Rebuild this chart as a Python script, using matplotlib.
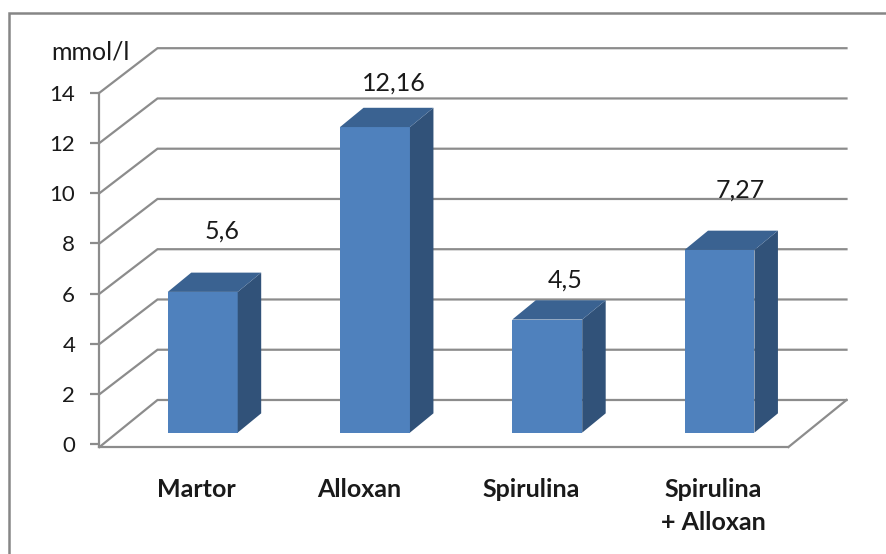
import matplotlib
matplotlib.use("Agg")
import matplotlib.pyplot as plt
from matplotlib.lines import Line2D

categories = ["Martor", "Alloxan", "Spirulina", "Spirulina\n+ Alloxan"]
values = [5.6, 12.16, 4.5, 7.27]
value_labels = ["5,6", "12,16", "4,5", "7,27"]
y_ticks = [0, 2, 4, 6, 8, 10, 12, 14]
y_unit = "mmol/l"

# Layout, all in pixels at 100 dpi
W, H = 887, 554
PLOT_L, PLOT_R, PLOT_T, PLOT_B = 99.5, 788.5, 92.7, 447.0
Y_MIN = -0.1
DEPTH_X, DEPTH_Y = 58.0, 44.5          # oblique shift of the back wall
BAR_NEAR, BAR_FAR = 0.295, 0.70        # depth span of the bars
BAR_SINK = 0.05                        # front face sits slightly lower, in value units
BAR_WIDTH = 0.406
LABEL_LIFT = [61, 44, 39, 60]          # value label height above the bar's front top
LABEL_SHIFT = [19, 19, 18, 21]         # value label shift right of the bar's front centre
CATEGORY_SHIFT = [10.5, 1, 1, 11]      # category label shift from the slot centre

GRID = "#8c8c8c"
FRONT, SIDE, TOP = "#4f81bd", "#315279", "#3a6291"
TEXT = "#1a1a1a"
LABEL_SIZE = 18
TICK_SIZE = 16

plt.rcParams["font.family"] = ["Lato", "DejaVu Sans"]

fig = plt.figure(figsize=(W / 100, H / 100), dpi=100, facecolor="white")
ax = fig.add_axes([PLOT_L / W, 1 - PLOT_B / H, (PLOT_R - PLOT_L) / W, (PLOT_B - PLOT_T) / H])
ax.set_xlim(-0.5, 3.5)
ax.set_ylim(Y_MIN, 14)
ax.patch.set_visible(False)

px_x = (PLOT_R - PLOT_L) / 4
px_y = (PLOT_B - PLOT_T) / (14 - Y_MIN)


def project(x, v, depth):
    """Oblique projection of a point at the given depth into data coordinates."""
    return x + depth * DEPTH_X / px_x, v + depth * DEPTH_Y / px_y


# Back wall gridlines, each with its receding segment along the left side
for v in y_ticks:
    start_v = Y_MIN if v == 0 else v
    p0 = project(-0.5, start_v, 0)
    p1 = project(-0.5, v, 1)
    p2 = project(3.5, v, 1)
    ax.plot([p0[0], p1[0], p2[0]], [p0[1], p1[1], p2[1]], color=GRID, lw=1.6,
            clip_on=False, zorder=1, solid_joinstyle="miter")

# Right edge of the floor
p0 = project(3.5, Y_MIN, 0)
p1 = project(3.5, 0, 1)
ax.plot([p0[0], p1[0]], [p0[1], p1[1]], color=GRID, lw=1.6, clip_on=False, zorder=1)

# Bars: front face, side face and top face
for i, v in enumerate(values):
    xl, base = project(i - BAR_WIDTH / 2, 0, BAR_NEAR)
    xr, _ = project(i + BAR_WIDTH / 2, 0, BAR_NEAR)
    base -= BAR_SINK
    ax.bar(xl, v, width=xr - xl, bottom=base, align="edge", color=FRONT,
           edgecolor="none", clip_on=False, zorder=3)
    fr_b = (xr, base)
    fr_t = (xr, base + v)
    bk_b = project(i + BAR_WIDTH / 2, 0, BAR_FAR)
    bk_t = project(i + BAR_WIDTH / 2, v, BAR_FAR)
    ax.fill([fr_b[0], bk_b[0], bk_t[0], fr_t[0]], [fr_b[1], bk_b[1], bk_t[1], fr_t[1]],
            color=SIDE, lw=0, clip_on=False, zorder=3)
    bl_t = project(i - BAR_WIDTH / 2, v, BAR_FAR)
    ax.fill([xl, xr, bk_t[0], bl_t[0]], [base + v, base + v, bk_t[1], bl_t[1]],
            color=TOP, lw=0, clip_on=False, zorder=3)
    ax.annotate(value_labels[i], xy=((xl + xr) / 2, base + v),
                xytext=(LABEL_SHIFT[i] * 0.72, LABEL_LIFT[i] * 0.72),
                textcoords="offset points", ha="center", va="center",
                fontsize=LABEL_SIZE, color=TEXT, zorder=4)

# Axes: left and bottom lines with outside ticks on the value axis
for side in ("top", "right"):
    ax.spines[side].set_visible(False)
for side in ("left", "bottom"):
    ax.spines[side].set_color(GRID)
    ax.spines[side].set_linewidth(1.6)
ax.set_xticks([])
ax.set_yticks(y_ticks)
ax.set_yticklabels([str(t) for t in y_ticks], fontsize=TICK_SIZE, color=TEXT)
ax.tick_params(axis="y", length=6.5, width=1.6, color=GRID, pad=11)

# Category labels beneath the floor
for i, name in enumerate(categories):
    ax.annotate(name, xy=(i, Y_MIN), xytext=(CATEGORY_SHIFT[i] * 0.72, -31 * 0.72),
                textcoords="offset points", ha="center", va="top", fontsize=LABEL_SIZE,
                fontweight="bold", color=TEXT, linespacing=1.5)

fig.text(51 / W, 1 - 52 / H, y_unit, ha="left", va="center", fontsize=LABEL_SIZE, color=TEXT)

# Chart frame, open on the lower edge
fig.add_artist(Line2D([9 / W, 9 / W, 1], [0, 1 - 12.5 / H, 1 - 12.5 / H],
                      color="#868686", lw=1.8, solid_joinstyle="miter"))

fig.savefig("out.png", dpi=100)
